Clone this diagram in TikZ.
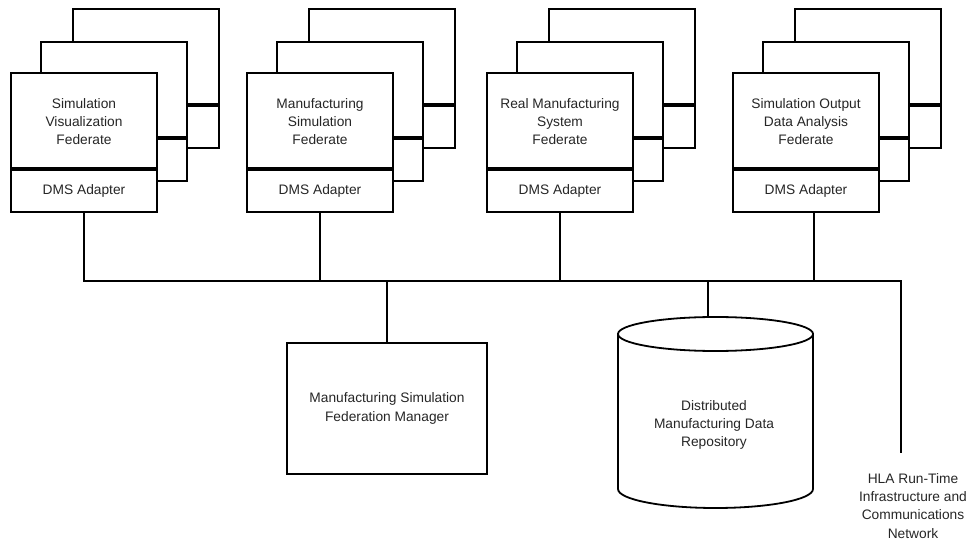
\documentclass[tikz,border=0pt]{standalone}
\usepackage{fontspec}
\setmainfont{Liberation Sans}
\begin{document}
\begin{tikzpicture}[x=1bp,y=-1bp,line width=1.8bp,
  every node/.style={font=\fontsize{13.8}{18.2}\selectfont, text=black!85, align=center},
  fedbox/.style={draw, fill=white, minimum width=146bp, minimum height=139bp, inner sep=0pt, line width=1.8bp},
  divider/.style={line width=3.4bp},
  plainbox/.style={draw, fill=white, inner sep=0pt, line width=1.8bp}]
\useasboundingbox (0,0) rectangle (971,541);

\newcommand\fedgroup[3]{%
  \foreach \dx/\dy/\nm in {62/-64/c, 30/-31/b}{%
    \node[fedbox] (#1\nm) at (#2+73+\dx,142.5+\dy) {};
    \draw[divider] ([yshift=-97bp]#1\nm.north west) -- ([yshift=-97bp]#1\nm.north east);
  }
  \node[fedbox] (#1) at (#2+73,142.5) {};
  \draw[divider] ([yshift=-97bp]#1.north west) -- ([yshift=-97bp]#1.north east);
  \node (#1t) at (#2+73,121.5) {#3};
  \node (#1a) at (#2+73,191) {DMS Adapter};
}

\fedgroup{ga}{11}{Simulation\\Visualization\\Federate}
\fedgroup{gb}{247}{Manufacturing\\Simulation\\Federate}
\fedgroup{gc}{487}{Real Manufacturing\\System\\Federate}
\fedgroup{gd}{733}{Simulation Output\\Data Analysis\\Federate}

% bus
\coordinate (bus) at (0,281);
\coordinate (hlaEnd) at (901,453);
\node (hla) at (913,506) {HLA Run-Time\\Infrastructure and\\Communications\\Network};

% manager
\node[plainbox, minimum width=200bp, minimum height=131bp] (mgr) at (387,408.5)
  {Manufacturing Simulation\\Federation Manager};

% repository cylinder
\draw[fill=white] (618,334) -- (618,489)
  arc[start angle=180, end angle=0, x radius=97.5, y radius=19] -- (813,334) -- cycle;
\draw[fill=white] (715.5,334) ellipse[x radius=97.5, y radius=17];
\coordinate (dbtop) at (708,317);
\node (db) at (714,425) {Distributed\\Manufacturing Data\\Repository};

% connectors
\draw (ga.south) -- (ga.south |- bus) -- (hlaEnd |- bus) -- (hlaEnd);
\draw (gb.south) -- (gb.south |- bus);
\draw (gc.south) -- (gc.south |- bus);
\draw ([xshift=8bp]gd.south) -- ([xshift=8bp]gd.south |- bus);
\draw (mgr.north) -- (mgr.north |- bus);
\draw (dbtop) -- (dbtop |- bus);
\end{tikzpicture}
\end{document}
